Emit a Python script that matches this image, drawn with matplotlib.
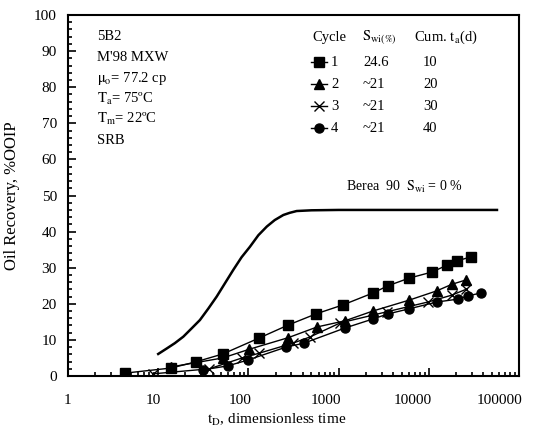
import numpy as np
import matplotlib.pyplot as plt
from matplotlib.ticker import MultipleLocator, LogLocator, NullFormatter
from matplotlib.transforms import ScaledTranslation

plt.rcParams['font.family'] = ['Liberation Serif', 'DejaVu Serif']
plt.rcParams['mathtext.fontset'] = 'stix'

# Cycle 1 (squares)
t1 = [4.3, 13.8, 26, 52, 131, 275, 561, 1119, 2406, 3530, 6030, 10860, 15900, 20560, 29400]
r1 = [0.8, 2.2, 3.9, 6.1, 10.5, 14.1, 17.2, 19.7, 23.0, 25.0, 27.1, 28.8, 30.7, 31.9, 33.0]
# Cycle 2 (triangles)
t2 = [13.8, 52, 102, 275, 580, 1180, 2400, 6030, 12300, 18000, 25800]
r2 = [2.5, 5.0, 7.4, 10.6, 13.6, 15.3, 18.0, 21.0, 23.6, 25.4, 26.6]
# Cycle 3 (crosses)
t3 = [8.8, 37, 85, 131, 312, 480, 1040, 3440, 9800, 18000, 25800]
r3 = [0.6, 2.0, 5.0, 6.3, 9.1, 10.8, 14.7, 17.8, 20.5, 22.4, 24.0]
# Cycle 4 (circles)
t4 = [31.4, 59, 98, 261, 413, 1178, 2406, 3530, 6030, 12300, 21100, 27200, 37900]
r4 = [1.7, 2.8, 4.4, 8.0, 9.1, 13.3, 15.8, 17.2, 18.6, 20.5, 21.3, 22.2, 23.0]
# Berea 90 reference curve
tb = [10, 12.4, 15.3, 19, 23.5, 29, 36, 44.5, 55, 68, 84, 104, 129, 160, 196, 244, 287,
      343, 500, 1000, 5000, 57000]
rb = [6.1, 7.6, 9.1, 10.9, 13.2, 15.5, 18.7, 22.0, 25.7, 29.4, 32.9, 35.8, 39.0, 41.4,
      43.2, 44.6, 45.2, 45.7, 45.9, 46.0, 46.0, 46.0]

cycles = ['1', '2', '3', '4']
swi = ['24.6', '~21', '~21', '~21']
cum_ta = ['10', '20', '30', '40']
info = ['5B2', "M'98 MXW", r'$\mathrm{\mu_o}$= 77.2 cp', r'$\mathrm{T_a}$= 75ºC',
        r'$\mathrm{T_m}$= 22ºC', 'SRB']
xticks = [1, 10, 100, 1000, 10000, 100000]
xticklabels = ['1', '10', '100', '1000', '10000', '100000']

fig = plt.figure(figsize=(5.44, 4.30), dpi=100)
ax = fig.add_axes([68/544, 1 - 376/430, (519-68)/544, (376-15)/430])

ax.plot(tb, rb, color='black', lw=1.8)
kw = dict(color='black', lw=1.0)
ax.plot(t1, r1, marker='s', ms=6.5, **kw)
ax.plot(t2, r2, marker='^', ms=6.5, **kw)
ax.plot(t3, r3, marker='x', ms=7, mew=1.0, **kw)
ax.plot(t4, r4, marker='o', ms=6.5, **kw)

ax.set_xscale('log')
ax.set_xlim(1, 100000)
ax.set_ylim(0, 100)
ax.yaxis.set_major_locator(MultipleLocator(10))
ax.yaxis.set_minor_locator(MultipleLocator(2))
ax.xaxis.set_minor_locator(LogLocator(base=10, subs=np.arange(2, 10)))
ax.xaxis.set_minor_formatter(NullFormatter())
ax.set_xticks(xticks)
ax.set_xticklabels(xticklabels)
ax.tick_params(axis='both', which='both', direction='in', top=False, right=False,
               labelsize=11, width=1.2)
ax.tick_params(axis='y', which='major', length=6, pad=8)
ax.tick_params(axis='x', which='major', length=6, pad=13)
ax.tick_params(axis='both', which='minor', length=3)
shift = ScaledTranslation(3/100, 0, fig.dpi_scale_trans)
for lab in ax.get_xticklabels():
    lab.set_horizontalalignment('right')
    lab.set_transform(lab.get_transform() + shift)
for s in ax.spines.values():
    s.set_linewidth(1.5)

ax.set_xlabel(r'$\mathrm{t_D}$, dimensionless time', fontsize=11)
ax.xaxis.set_label_coords((277-68)/451, -(412-376)/361)
ax.set_ylabel('Oil Recovery, %OOIP', fontsize=12, labelpad=10)

# info text block
for i, s in enumerate(info):
    fig.text(97/544, 1 - (37 + 20.6*i)/430, s, fontsize=10.5, va='center', ha='left')

# legend table
fig.text(312/544, 1 - 37/430, 'Cycle', fontsize=10.5, va='center')
fig.text(362/544, 1 - 37/430, r'$\mathrm{S_{wi(\%)}}$', fontsize=10.5, va='center')
fig.text(414/544, 1 - 37/430, r'Cum. $\mathrm{t_a}$(d)', fontsize=10.5, va='center')
markers = ['s', '^', 'x', 'o']
for i in range(4):
    y = 1 - (62 + 22*i)/430
    fig.add_artist(plt.Line2D([311/544, 327/544], [y, y], color='black', lw=1.0))
    fig.add_artist(plt.Line2D([319/544], [y], color='black', marker=markers[i],
                              ms=6.5 if markers[i] != 'x' else 7, mew=1.0, ls='none'))
    fig.text(331/544, y, cycles[i], fontsize=10.5, va='center')
    fig.text(363/544, y, swi[i], fontsize=10.5, va='center')
    fig.text(423/544, y, cum_ta[i], fontsize=10.5, va='center')

fig.text(346/544, 1 - 187/430, r'Berea  90  $\mathrm{S_{wi}}$ = 0 %', fontsize=10, va='center')

fig.savefig('out.png', dpi=100)
